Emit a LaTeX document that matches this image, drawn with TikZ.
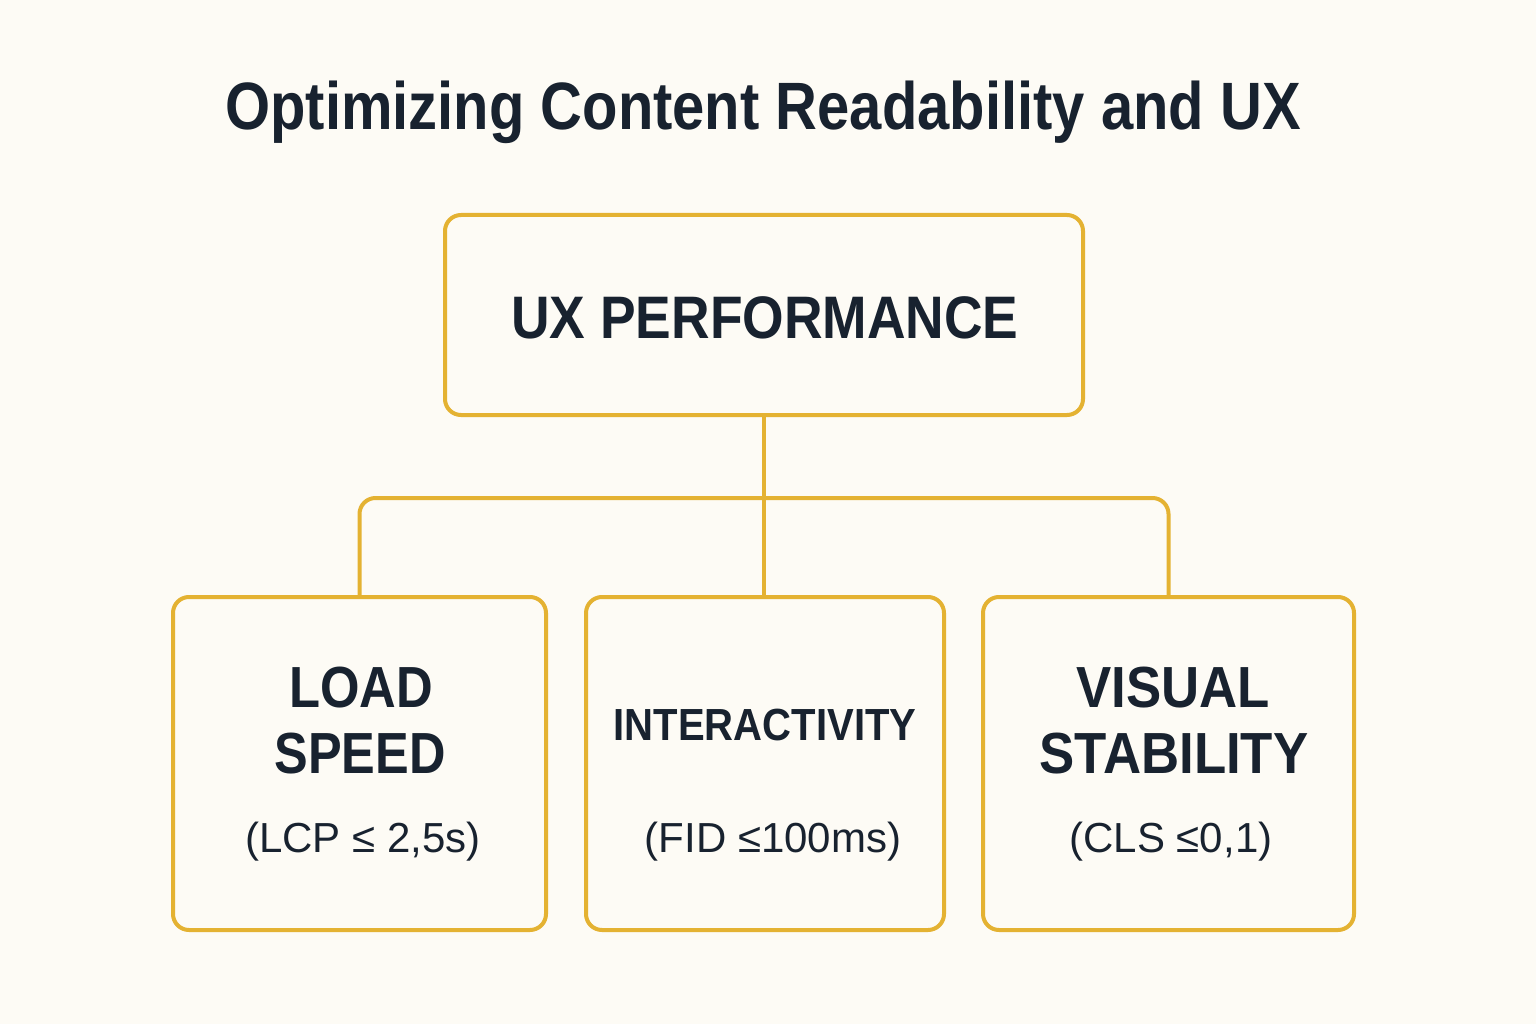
\documentclass[tikz,border=0pt]{standalone}
\usepackage{fontspec}
\setmainfont{Liberation Sans}
\newcommand{\narrowtxt}[2]{\scalebox{#1}[1]{#2}}
\begin{document}
\begin{tikzpicture}[x=1pt,y=-1pt,
  every node/.style={text=ink, inner sep=0pt},
  box/.style={draw=gold, line width=4pt, rounded corners=16pt, fill=bg},
  conn/.style={draw=gold, line width=4pt},
  title/.style={font=\fontsize{67}{80}\selectfont\bfseries},
  head/.style={font=\fontsize{58}{66}\selectfont\bfseries},
  sub/.style={font=\fontsize{42}{50}\selectfont}]
\definecolor{bg}{HTML}{FDFBF5}
\definecolor{gold}{HTML}{E4B232}
\definecolor{ink}{HTML}{18222F}
\fill[bg] (0,0) rectangle (1536,1024);
\useasboundingbox (0,0) rectangle (1536,1024);
% title
\node[title, anchor=base] (ttl) at (763,130) {\narrowtxt{0.865}{Optimizing Content Readability and UX}};
% boxes
\node[box, minimum width=638pt, minimum height=200pt] (top) at (764,315) {};
\node[box, minimum width=373pt, minimum height=333pt] (lb) at (359.5,763.5) {};
\node[box, minimum width=358pt, minimum height=333pt] (mb) at (765,763.5) {};
\node[box, minimum width=371pt, minimum height=333pt] (rb) at (1168.5,763.5) {};
% connectors
\coordinate (bar) at (764,498);
\draw[conn] (top.south) -- (top.south |- mb.north);
\draw[conn, rounded corners=16pt] (lb.north) |- (bar) -| (rb.north);
% texts
\node[font=\fontsize{60}{70}\selectfont\bfseries, anchor=base] (tt) at (765,338) {\narrowtxt{0.89}{UX PERFORMANCE}};
\node[head, anchor=base] (l1) at (361,707) {\narrowtxt{0.875}{LOAD}};
\node[head, anchor=base] (l2) at (360,773) {\narrowtxt{0.87}{SPEED}};
\node[sub, anchor=base] (l3) at (363,852) {(LCP ≤ 2,5s)};
\node[font=\fontsize{45}{52}\selectfont\bfseries, anchor=base] (m1) at (765,740) {\narrowtxt{0.89}{INTERACTIVITY}};
\node[sub, anchor=base] (m2) at (773,852) {(FID ≤100ms)};
\node[head, anchor=base] (r1) at (1173,707) {\narrowtxt{0.91}{VISUAL}};
\node[head, anchor=base] (r2) at (1174,773) {\narrowtxt{0.91}{STABILITY}};
\node[sub, anchor=base] (r3) at (1171,852) {(CLS ≤0,1)};
\end{tikzpicture}
\end{document}
